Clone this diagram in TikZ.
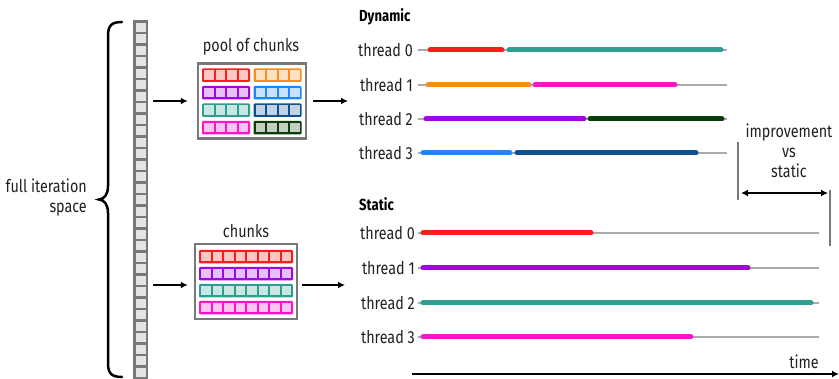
\documentclass[tikz,border=0pt]{standalone}
\usepackage{fontspec}
\setmainfont{Fira Sans}[FakeStretch=0.82]
\usetikzlibrary{arrows.meta}
\definecolor{cRed}{HTML}{FA1E1A}
\definecolor{cTeal}{HTML}{2E9E92}
\definecolor{cOrange}{HTML}{FF8C1A}
\definecolor{cMag}{HTML}{FF14C8}
\definecolor{cPurp}{HTML}{A005E8}
\definecolor{cGreen}{HTML}{0B3D0B}
\definecolor{cBlue}{HTML}{1E86FF}
\definecolor{cNavy}{HTML}{0E4F8E}
\definecolor{cGrayB}{HTML}{787878}
\definecolor{cGrayF}{HTML}{E4E4E4}
\definecolor{cTrack}{HTML}{ABABAB}
\definecolor{cText}{HTML}{202020}
\newcommand\mkchunk[5]{%
  \fill[#5, rounded corners=1.2pt] (#1,#2) rectangle ++(#3,13.5);
  \pgfmathsetmacro\chp{(#3-2)/#4}
  \foreach \k in {1,...,#4}{\fill[#5!25] ({#1+2+(\k-1)*\chp},#2+2) rectangle ++({\chp-2},9.5);}
}
\begin{document}
\begin{tikzpicture}[x=1pt,y=-1pt,
  lbl/.style={font=\fontsize{17.5}{20}\selectfont, inner sep=0pt, text=cText},
  hdr/.style={font=\fontsize{16}{19}\selectfont\bfseries, inner sep=0pt, text=black},
  arr/.style={line width=2.2pt, -{Latex[length=7pt,width=7pt]}},
  track/.style={cTrack, line width=1.5pt},
  bar/.style={line width=5pt, line cap=round},
  box/.style={draw=cGrayB, line width=2.5pt, fill=white, inner sep=0pt}]
\useasboundingbox (0,0) rectangle (839,379);
% brace
\draw[line width=2.5pt, line cap=round] (122,22) .. controls (111,22) and (108,26) .. (108,36) -- (108,186)
  .. controls (108,195) and (104,199) .. (99,199.5) .. controls (104,200) and (108,204) .. (108,213)
  -- (108,363) .. controls (108,373) and (111,377) .. (122,377);
\node[lbl, align=right, anchor=east] (full) at (87,198) {full iteration\\space};
% column
\node[inner sep=0pt, minimum width=14pt, minimum height=357pt] (col) at (140.5,199.5) {};
\foreach \i in {0,...,30}{
  \draw[draw=cGrayB, fill=cGrayF, line width=2.4pt] (134.5,{21.5+\i*11.5}) rectangle ++(12.5,11.5);
}
% pool
\node[lbl] (pooltxt) at (251,47) {pool of chunks};
\node[box, minimum width=108pt, minimum height=75pt] (pool) at (252,101) {};
\mkchunk{202}{68.5}{48}{4}{cRed}
\mkchunk{253.5}{68.5}{48}{4}{cOrange}
\mkchunk{202}{86}{48}{4}{cPurp}
\mkchunk{253.5}{86}{48}{4}{cBlue}
\mkchunk{202}{103.5}{48}{4}{cTeal}
\mkchunk{253.5}{103.5}{48}{4}{cNavy}
\mkchunk{202}{121}{48}{4}{cMag}
\mkchunk{253.5}{121}{48}{4}{cGreen}
% static chunks
\node[lbl] (chtxt) at (246,231) {chunks};
\node[box, minimum width=102pt, minimum height=75pt] (sbox) at (246,281.5) {};
\mkchunk{199}{250}{94}{8}{cRed}
\mkchunk{199}{267}{94}{8}{cPurp}
\mkchunk{199}{284}{94}{8}{cTeal}
\mkchunk{199}{301}{94}{8}{cMag}
% arrows
\coordinate (dynin) at (348,101);
\coordinate (statin) at (345,285);
\coordinate (poolin) at (153,101);
\coordinate (sin) at (153,285);
\draw[arr] (poolin) -- ([xshift=-9pt]pool.west |- poolin);
\draw[arr] ([xshift=6pt]pool.east |- dynin) -- (dynin);
\draw[arr] (sin) -- ([xshift=-6pt]sbox.west |- sin);
\draw[arr] ([xshift=4pt]sbox.east |- statin) -- (statin);
% dynamic
\node[hdr, anchor=west] (dyn) at (359,17) {Dynamic};
\foreach \n/\y in {0/50,1/85,2/119,3/153}{
  \node[lbl, anchor=east] (d\n) at (413,\y) {thread \n};
  \draw[track] (418,\y) -- (727,\y);
}
\draw[bar, cRed] (430,50) -- (502,50);
\draw[bar, cTeal] (509,50) -- (721,50);
\draw[bar, cOrange] (428,85) -- (529,85);
\draw[bar, cMag] (535,85) -- (675,85);
\draw[bar, cPurp] (426,119) -- (584,119);
\draw[bar, cGreen] (590,119) -- (722,119);
\draw[bar, cBlue] (423,153) -- (510,153);
\draw[bar, cNavy] (517,153) -- (696,153);
% static
\node[hdr, anchor=west] (stat) at (359,204) {Static};
\foreach \n/\y in {0/233,1/268,2/303,3/337}{
  \node[lbl, anchor=east] (s\n) at (415,\y) {thread \n};
  \draw[track] (418,\y) -- (819,\y);
}
\draw[bar, cRed] (423,233) -- (591,233);
\draw[bar, cPurp] (423,268) -- (748,268);
\draw[bar, cTeal] (423,303) -- (811,303);
\draw[bar, cMag] (423,337) -- (691,337);
% improvement
\node[lbl, align=center] (imp) at (789,151) {improvement\\vs\\static};
\coordinate (ia) at (738,142);
\coordinate (ib) at (738,200);
\coordinate (ic) at (830,190);
\coordinate (id) at (830,246);
\coordinate (ha) at (741,193);
\coordinate (hb) at (828,193);
\draw[cGrayB, line width=2.5pt] (ia) -- (ib);
\draw[cGrayB, line width=2.5pt] (ic) -- (id);
\draw[line width=2pt, {Latex[length=7pt,width=7pt]}-{Latex[length=7pt,width=7pt]}] (ha) -- (hb);
% time
\coordinate (t0) at (412,374);
\coordinate (t1) at (839,374);
\draw[arr] (t0) -- (t1);
\node[lbl, anchor=east] (time) at (819,362) {time};
\end{tikzpicture}
\end{document}
